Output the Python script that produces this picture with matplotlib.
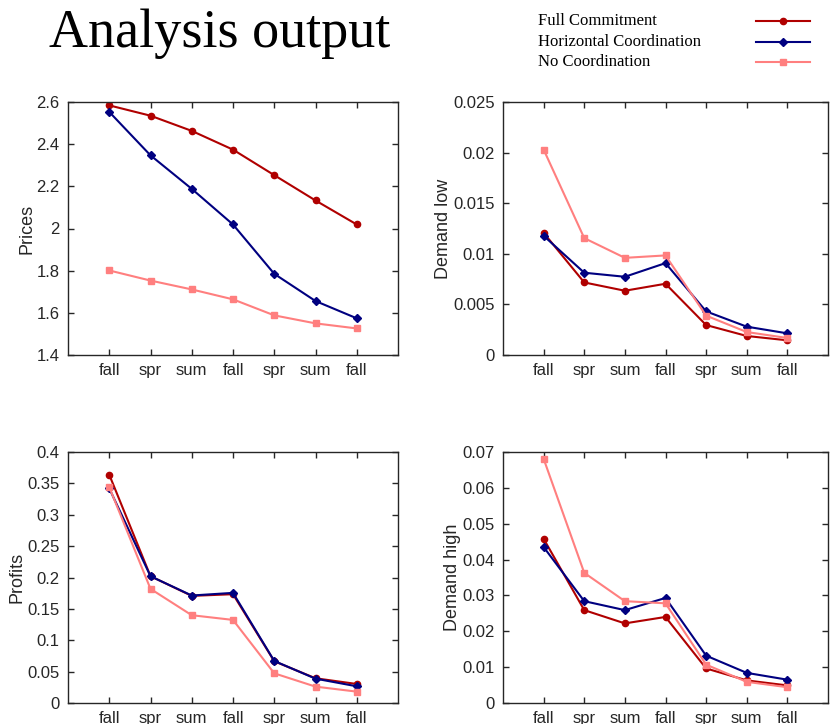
import numpy as np
import matplotlib
matplotlib.use('Agg')
import matplotlib.pyplot as plt
from matplotlib.lines import Line2D

# season labels on the x axis
seasons = ['fall', 'spr', 'sum', 'fall', 'spr', 'sum', 'fall']

series_names = ['Full Commitment', 'Horizontal Coordination', 'No Coordination']

prices_full = [2.584, 2.535, 2.463, 2.374, 2.253, 2.133, 2.019]
prices_horiz = [2.553, 2.347, 2.188, 2.019, 1.785, 1.656, 1.574]
prices_none = [1.801, 1.753, 1.711, 1.664, 1.588, 1.550, 1.526]

dlow_full = [0.01207, 0.00717, 0.00635, 0.00704, 0.00296, 0.00188, 0.00145]
dlow_horiz = [0.01178, 0.00813, 0.00773, 0.00908, 0.00431, 0.00280, 0.00214]
dlow_none = [0.0203, 0.01155, 0.0096, 0.00984, 0.00389, 0.00227, 0.00168]

profits_full = [0.3638, 0.2021, 0.1707, 0.1734, 0.0665, 0.0394, 0.0303]
profits_horiz = [0.342, 0.202, 0.1713, 0.1755, 0.067, 0.0388, 0.0266]
profits_none = [0.344, 0.1819, 0.1399, 0.1324, 0.0473, 0.0261, 0.0181]

dhigh_full = [0.0458, 0.0259, 0.0222, 0.0240, 0.00964, 0.0063, 0.0049]
dhigh_horiz = [0.0435, 0.0284, 0.0259, 0.0293, 0.0132, 0.0084, 0.0065]
dhigh_none = [0.0681, 0.0363, 0.0284, 0.0278, 0.0107, 0.0059, 0.0044]

colors = ['#b00000', '#000080', '#ff7f7f']
markers = ['o', 'D', 's']
msizes = [4.5, 4, 4]

plt.rcParams['font.family'] = ['Liberation Sans', 'DejaVu Sans']

fig = plt.figure(figsize=(8.3, 7.24), dpi=100)

W, H = 830, 724
def box(l, t, r, b):
    return [l / W, 1 - b / H, (r - l) / W, (b - t) / H]

panels = [
    (box(68, 102, 398, 355), 'Prices', (prices_full, prices_horiz, prices_none),
     (1.4, 2.6), np.arange(1.4, 2.61, 0.2), ['1.4', '1.6', '1.8', '2', '2.2', '2.4', '2.6']),
    (box(503, 102, 828, 355), 'Demand low', (dlow_full, dlow_horiz, dlow_none),
     (0, 0.025), np.arange(0, 0.0251, 0.005), ['0', '0.005', '0.01', '0.015', '0.02', '0.025']),
    (box(68, 452, 398, 703), 'Profits', (profits_full, profits_horiz, profits_none),
     (0, 0.4), np.arange(0, 0.401, 0.05), ['0', '0.05', '0.1', '0.15', '0.2', '0.25', '0.3', '0.35', '0.4']),
    (box(503, 452, 828, 703), 'Demand high', (dhigh_full, dhigh_horiz, dhigh_none),
     (0, 0.07), np.arange(0, 0.0701, 0.01), ['0', '0.01', '0.02', '0.03', '0.04', '0.05', '0.06', '0.07']),
]

x = np.arange(1, len(seasons) + 1)
for rect, ylabel, data, ylim, yticks, yticklabels in panels:
    ax = fig.add_axes(rect)
    for vals, c, m, ms in zip(data, colors, markers, msizes):
        ax.plot(x, vals, color=c, marker=m, markersize=ms, linewidth=1.5)
    ax.set_xlim(0, 8)
    ax.set_ylim(*ylim)
    ax.set_xticks(x)
    ax.set_xticklabels(seasons)
    ax.set_yticks(yticks)
    ax.set_yticklabels(yticklabels)
    ax.set_ylabel(ylabel, fontsize=13, color='#262626', labelpad=1)
    ax.tick_params(direction='in', length=4, width=1, top=True, right=True,
                   labelsize=12, colors='#262626', pad=6)
    for s in ax.spines.values():
        s.set_color('#262626')
        s.set_linewidth(1)

fig.text(220 / W, 1 - 34 / H, 'Analysis output', family='Liberation Serif',
         fontsize=39, ha='center', va='center')

# legend drawn at the top right
rows_y = [21, 42, 62]
for name, c, m, ms, y in zip(series_names, colors, markers, msizes, rows_y):
    fig.text(538 / W, 1 - y / H, name, family='Liberation Serif', fontsize=12,
             ha='left', va='center')
    fig.add_artist(Line2D([756 / W, 783 / W, 810 / W], [1 - y / H] * 3,
                          transform=fig.transFigure, color=c, marker=m,
                          markersize=ms, markevery=[1], linewidth=1.5))

fig.savefig('out.png', dpi=100)
